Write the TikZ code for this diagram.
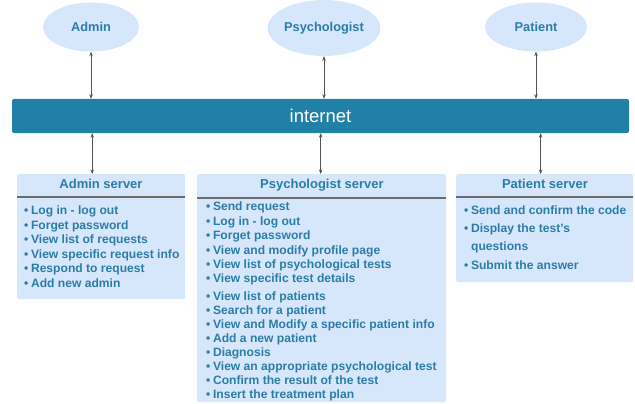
\documentclass[tikz,border=0pt]{standalone}
\usepackage{fontspec}
\setmainfont{Liberation Sans}
\usetikzlibrary{arrows.meta,shapes.geometric}
\definecolor{txt}{HTML}{2B7DA6}
\definecolor{fillb}{HTML}{D6E6FB}
\definecolor{barc}{HTML}{2080A5}
\definecolor{arr}{HTML}{555555}
\definecolor{hline}{HTML}{6B6B6B}
\begin{document}
\begin{tikzpicture}[x=1pt,y=-1pt,
  actor/.style={ellipse, fill=fillb, text=txt, font=\fontsize{12.8}{14}\selectfont\bfseries, inner sep=0pt},
  srvbox/.style={fill=fillb, rounded corners=2pt, anchor=north west, inner sep=0pt},
  item/.style={anchor=base west, text=txt, font=\fontsize{12.1}{14}\selectfont\bfseries, inner sep=0pt},
  srvtitle/.style={anchor=base, text=txt, font=\fontsize{13}{14}\selectfont\bfseries, inner sep=0pt},
  link/.style={draw=arr, line width=0.6pt, {Stealth[length=4.5pt,width=3.5pt]}-{Stealth[length=4.5pt,width=3.5pt]}},
  sep/.style={draw=hline, line width=1.3pt}]
\useasboundingbox (0,0) rectangle (635,404);

% actors
\node[actor, minimum width=96pt, minimum height=49pt] (adm) at (91,27) {Admin};
\node[actor, minimum width=108pt, minimum height=56pt] (psy) at (324,28) {Psychologist};
\node[actor, minimum width=102pt, minimum height=49pt] (pat) at (536,27) {Patient};

% internet bar
\node[fill=barc, rounded corners=2pt, minimum width=617pt, minimum height=34pt, inner sep=0pt,
      text=white, font=\fontsize{18.5}{20}\selectfont] (net) at (320.5,116) {internet};

% servers
\node[srvbox, minimum width=168pt, minimum height=125pt] (admS) at (17,174) {};
\node[srvbox, minimum width=249pt, minimum height=228pt] (psyS) at (197,174) {};
\node[srvbox, minimum width=177pt, minimum height=108pt] (patS) at (456,174) {};

\draw[sep] ([yshift=-23pt]admS.north west) -- ([yshift=-23pt]admS.north east);
\draw[sep] ([yshift=-24pt]psyS.north west) -- ([yshift=-24pt]psyS.north east);
\draw[sep] ([yshift=-23pt]patS.north west) -- ([yshift=-23pt]patS.north east);

\node[srvtitle] (admT) at (101,188.5) {Admin server};
\node[srvtitle] (psyT) at (322,188.5) {Psychologist server};
\node[srvtitle] (patT) at (545,188.5) {Patient server};

% connectors
\draw[link] (adm.south) -- (adm.south |- net.north);
\draw[link] (psy.south) -- (psy.south |- net.north);
\draw[link] (pat.south) -- (pat.south |- net.north);
\draw[link] ([xshift=-9pt]admS.north |- net.south) -- ([xshift=-9pt]admS.north);
\draw[link] ([xshift=-1pt]psyS.north |- net.south) -- ([xshift=-1pt]psyS.north);
\draw[link] ([xshift=-4pt]patS.north |- net.south) -- ([xshift=-4pt]patS.north);

% admin items
\foreach \t [count=\i] in {Log in - log out, Forget password, View list of requests,
  View specific request info, Respond to request, Add new admin}
  \node[item] (a\i) at (24,{214.5+14.5*(\i-1)}) {•\hspace{2.6pt}\t};

% psychologist items
\foreach \t/\y [count=\i] in {Send request/210.5, Log in - log out/225, Forget password/239.5,
  View and modify profile page/254, View list of psychological tests/268,
  View specific test details/282, View list of patients/300.5, Search for a patient/314.5,
  View and Modify a specific patient info/328.5, Add a new patient/342.5, Diagnosis/356.5,
  View an appropriate psychological test/370.5, Confirm the result of the test/384.5,
  Insert the treatment plan/398.5}
  \node[item] (p\i) at (206,\y) {•\hspace{2.6pt}\t};

% patient items
\node[item] (q1) at (464,214.5) {•\hspace{2.6pt}Send and confirm the code};
\node[item] (q2) at (464,232.5) {•\hspace{2.6pt}Display the test's};
\node[item] (q3) at (471,250.5) {questions};
\node[item] (q4) at (464,269.5) {•\hspace{2.6pt}Submit the answer};
\end{tikzpicture}
\end{document}
